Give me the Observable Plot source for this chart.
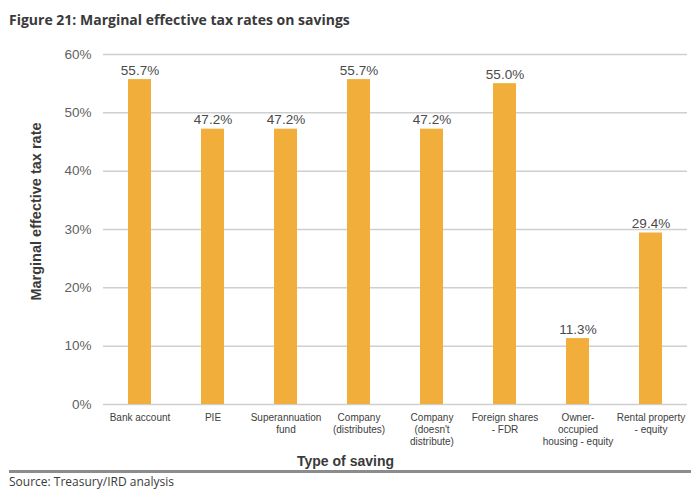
<!DOCTYPE html>
<html>
<head>
<meta charset="utf-8">
<script src="https://cdn.jsdelivr.net/npm/d3@7"></script>
<script src="https://cdn.jsdelivr.net/npm/@observablehq/plot@0.6"></script>
<style>
  html, body { margin: 0; padding: 0; background: #fff; width: 691px; height: 492px; overflow: hidden; }
  #chart svg { display: block; }
  #title { font-family: "Open Sans", sans-serif; font-weight: 700; font-size: 14px; color: #3a3a3a; height: 34px; line-height: 40px; padding-left: 9px; box-sizing: border-box; }
  #xlabel { font-family: "Liberation Sans", Arial, sans-serif; font-weight: 700; font-size: 14px; color: #3a3a3a; text-align: center; width: 691px; height: 22px; line-height: 26px; }
  #rule { margin: 0 0 0 9px; width: 682px; height: 3px; background: #8c8c8c; }
  #source { font-family: "Open Sans", sans-serif; font-size: 12px; color: #3a3a3a; padding-left: 9px; line-height: 18px; height: 18px; }
</style>
</head>
<body>
<div id="title">Figure 21: Marginal effective tax rates on savings</div>
<div id="chart"></div>
<div id="xlabel">Type of saving</div>
<div id="rule"></div>
<div id="source">Source: Treasury/IRD analysis</div>
<script>
const categories = [
  "Bank account",
  "PIE",
  "Superannuation\nfund",
  "Company\n(distributes)",
  "Company\n(doesn't\ndistribute)",
  "Foreign shares\n- FDR",
  "Owner-\noccupied\nhousing - equity",
  "Rental property\n- equity"
];
const values = [55.7, 47.2, 47.2, 55.7, 47.2, 55.0, 11.3, 29.4];
const yTicks = [0, 10, 20, 30, 40, 50, 60];

const data = categories.map((c, i) => ({category: c, value: values[i]}));

const chart = Plot.plot({
  width: 691,
  height: 414,
  marginTop: 20,
  marginBottom: 44,
  marginLeft: 103,
  marginRight: 4,
  style: { fontFamily: "Liberation Sans, Arial, sans-serif", color: "#444", background: "#fff", overflow: "visible" },
  x: { domain: categories, paddingInner: 0.685, paddingOuter: 0.3425, align: 0.5 },
  y: { domain: [0, 60], ticks: yTicks },
  marks: [
    Plot.gridY(yTicks, { stroke: "#cfcfcf", strokeOpacity: 1, strokeWidth: 1.5 }),
    Plot.axisY(yTicks, {
      tickSize: 0, tickPadding: 12, fontSize: 13.5, fill: "#5f5f5f",
      tickFormat: d => d + "%",
      label: "Marginal effective tax rate", labelAnchor: "center", labelArrow: "none", labelOffset: 73
    }),
    Plot.barY(data, { x: "category", y: "value", fill: "#F2AE3A" }),
    Plot.text(data, { x: "category", y: "value", text: d => d.value.toFixed(1) + "%", dy: -9, fontSize: 13.5, fill: "#4a4a4a" }),
    Plot.axisX({ tickSize: 0, tickPadding: 8, fontSize: 10, fill: "#404040", lineHeight: 1.2, label: null })
  ]
});
document.getElementById("chart").appendChild(chart);
// style and position the y axis label (centred slightly above the plot middle, as in the reference)
const yl = d3.select(chart).select("[aria-label='y-axis label']");
const prev = yl.attr("transform") || "";
yl.attr("transform", (prev + " translate(0,-18)").trim());
yl.selectAll("text").style("font-weight", "700").style("font-size", "14.5px").style("fill", "#3a3a3a");
</script>
</body>
</html>
